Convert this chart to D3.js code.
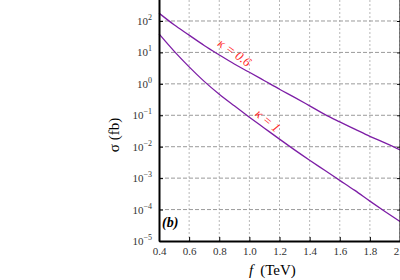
<!DOCTYPE html>
<html>
<head>
<meta charset="utf-8">
<script src="https://cdn.jsdelivr.net/npm/d3@7"></script>
<style>
  body { margin: 0; background: #fff; }
  svg, svg text { font-family: "Liberation Serif", "Times New Roman", serif; }
</style>
</head>
<body>
<div id="chart"></div>
<script>
"use strict";

// f in TeV
var fValues = [0.4, 0.5, 0.6, 0.7, 0.8, 0.9, 1.0, 1.1, 1.2, 1.3, 1.4, 1.5, 1.6, 1.7, 1.8, 1.9, 2.0];
// sigma (fb), kappa = 0.6
var sigmaK06 = [178, 75.9, 35.5, 16.6, 8.32, 4.27, 2.34, 1.26, 0.676, 0.372, 0.200, 0.107,
                0.0617, 0.0363, 0.0214, 0.0132, 0.00794];
// sigma (fb), kappa = 1
var sigmaK1 = [38.9, 11.0, 3.47, 1.20, 0.468, 0.200, 0.0871, 0.0389, 0.0174, 0.00794, 0.00372,
               0.00178, 8.51e-4, 4.07e-4, 1.86e-4, 8.71e-5, 4.17e-5];
var xTicks = [0.4, 0.6, 0.8, 1.0, 1.2, 1.4, 1.6, 1.8, 2.0];
var yExponents = [-5, -4, -3, -2, -1, 0, 1, 2];
var curveLabels = ["\u03BA = 0.6", "\u03BA = 1"];

var W = 400, H = 280;
var left = 159, right = 400, bottom = 241;
var decade = 31.43;
var serif = "Liberation Serif";

var svg = d3.select("#chart").append("svg")
        .attr("width", W)
        .attr("height", H)
        .attr("font-family", serif);

var x = d3.scaleLinear().domain([0.4, 2.0]).range([left, right]);
var y = d3.scaleLog().domain([1e-5, 1e3]).range([bottom, bottom - 8 * decade]);

// grid
svg.append("g")
        .selectAll("line")
        .data(xTicks.slice(1))
        .enter()
        .append("line")
        .attr("x1", function (d) { return x(d); })
        .attr("x2", function (d) { return x(d); })
        .attr("y1", 0)
        .attr("y2", bottom)
        .attr("stroke", "#b8b8b8")
        .attr("stroke-width", 1)
        .attr("stroke-dasharray", "2,2");

svg.append("g")
        .selectAll("line")
        .data(yExponents.slice(1))
        .enter()
        .append("line")
        .attr("x1", left)
        .attr("x2", right)
        .attr("y1", function (d) { return y(Math.pow(10, d)); })
        .attr("y2", function (d) { return y(Math.pow(10, d)); })
        .attr("stroke", "#9a9a9a")
        .attr("stroke-width", 1)
        .attr("stroke-dasharray", "4,2");

// curves
var line = d3.line()
        .x(function (d) { return x(d[0]); })
        .y(function (d) { return y(d[1]); })
        .curve(d3.curveMonotoneX);

[sigmaK06, sigmaK1].forEach(function (s) {
        svg.append("path")
                .datum(fValues.map(function (f, i) { return [f, s[i]]; }))
                .attr("d", line)
                .attr("fill", "none")
                .attr("stroke", "#7d1ea6")
                .attr("stroke-width", 1.3);
});

// x axis
var xAxis = svg.append("g")
        .attr("transform", "translate(0," + bottom + ")")
        .call(d3.axisBottom(x).tickValues(xTicks).tickFormat(d3.format(".1f"))
                .tickSizeInner(-4).tickSizeOuter(0).tickPadding(6));
xAxis.attr("font-family", serif);
xAxis.select(".domain").attr("stroke-width", 2);
xAxis.selectAll("text").attr("font-size", 11).attr("fill", "#333");

// y axis
var yAxis = svg.append("g")
        .attr("transform", "translate(" + left + ",0)")
        .call(d3.axisLeft(y).tickValues(yExponents.map(function (e) { return Math.pow(10, e); }))
                .tickFormat("").tickSizeInner(-4).tickSizeOuter(0));
yAxis.select(".domain").attr("stroke-width", 2);

// right axis ticks
svg.append("g")
        .attr("transform", "translate(" + right + ",0)")
        .call(d3.axisRight(y).tickValues(yExponents.map(function (e) { return Math.pow(10, e); }))
                .tickFormat("").tickSizeInner(-3).tickSizeOuter(0))
        .select(".domain").attr("stroke-width", 2);

var yLab = svg.append("g")
        .selectAll("text")
        .data(yExponents)
        .enter()
        .append("text")
        .attr("x", left - 7)
        .attr("y", function (d) { return y(Math.pow(10, d)) + 4; })
        .attr("text-anchor", "end")
        .attr("font-size", 11)
        .attr("fill", "#333");
yLab.append("tspan").text("10");
yLab.append("tspan")
        .attr("dy", -5)
        .attr("font-size", 8)
        .text(function (d) { return d < 0 ? "\u2212" + (-d) : d; });

// axis titles
svg.append("text")
        .attr("transform", "translate(119,135) rotate(-90)")
        .attr("text-anchor", "middle")
        .attr("font-size", 15)
        .text("\u03C3 (fb)");

var xt = svg.append("text")
        .attr("x", 249)
        .attr("y", 275)
        .attr("font-size", 15);
xt.append("tspan").attr("font-style", "italic").text("f");
xt.append("tspan").attr("dx", 7).text("(TeV)");

// curve labels
svg.append("text")
        .attr("transform", "translate(232,56) rotate(36)")
        .attr("text-anchor", "middle")
        .attr("font-size", 13)
        .attr("font-style", "italic")
        .attr("fill", "#ff2a2a")
        .text(curveLabels[0]);

svg.append("text")
        .attr("transform", "translate(265,124) rotate(40)")
        .attr("text-anchor", "middle")
        .attr("font-size", 13)
        .attr("font-style", "italic")
        .attr("fill", "#ff2a2a")
        .text(curveLabels[1]);

svg.append("text")
        .attr("x", 162)
        .attr("y", 227)
        .attr("font-size", 14)
        .attr("font-style", "italic")
        .attr("font-weight", "bold")
        .text("(b)");
</script>
</body>
</html>
